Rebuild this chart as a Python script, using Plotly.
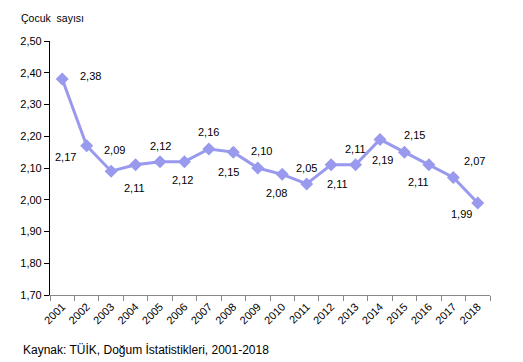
import plotly.graph_objects as go

years = [str(y) for y in range(2001, 2019)]
values = [2.38, 2.17, 2.09, 2.11, 2.12, 2.12, 2.16, 2.15, 2.10, 2.08,
          2.05, 2.11, 2.11, 2.19, 2.15, 2.11, 2.07, 1.99]
y_ticks = [1.7, 1.8, 1.9, 2.0, 2.1, 2.2, 2.3, 2.4, 2.5]
title_text = "Çocuk  sayısı"
source_text = "Kaynak: TÜİK, Doğum İstatistikleri, 2001-2018"

# label offsets (pixels) relative to each point
label_dx = [28, -21, 3, -1, 0, -2, 0, -5, 4, -6, 0, 6, 0, 2, 10, -10, 21, -16]
label_dy = [3, -11, 21, -23, 16, -18, 17, -20, 17, -19, 16, -19, 16, -21, 17, -17, 17, -11]

FONT = "Liberation Sans, Arial, sans-serif"
LINE = "#9999ee"

W, H = 523, 362
L, R, T, B = 42, 41, 33, 75
pw, ph = W - L - R, H - T - B

fig = go.Figure()
fig.add_trace(go.Scatter(
    x=years, y=values, mode="lines+markers",
    line=dict(color=LINE, width=3),
    marker=dict(symbol="diamond", size=10, color=LINE),
    hoverinfo="skip", showlegend=False,
))

annotations = []
for i, (v, dx, dy) in enumerate(zip(values, label_dx, label_dy)):
    annotations.append(dict(
        x=i, y=v, xref="x", yref="y", text=f"{v:.2f}".replace(".", ","),
        showarrow=False, xshift=dx, yshift=dy,
        font=dict(family=FONT, size=11, color="#000"),
    ))
annotations.append(dict(
    x=(11 - L) / pw, y=1 - (10 - T) / ph, xref="paper", yref="paper",
    text=title_text, showarrow=False, xanchor="left", yanchor="middle",
    font=dict(family=FONT, size=10.5, color="#000"),
))
annotations.append(dict(
    x=(13 - L) / pw, y=1 - (342 - T) / ph, xref="paper", yref="paper",
    text=source_text, showarrow=False, xanchor="left", yanchor="middle",
    font=dict(family=FONT, size=12, color="#000"),
))

fig.update_layout(
    width=W, height=H,
    margin=dict(l=L, r=R, t=T, b=B, pad=0),
    paper_bgcolor="white", plot_bgcolor="white",
    separators=",.",
    font=dict(family=FONT, size=11, color="#000"),
    annotations=annotations,
    xaxis=dict(
        type="category", categoryorder="array", categoryarray=years,
        range=[-0.5, len(years) - 0.5],
        tickson="boundaries", tickangle=-45,
        showline=True, linecolor="#888", linewidth=1,
        ticks="outside", ticklen=5, tickcolor="#888",
        showgrid=False, zeroline=False,
        tickfont=dict(family=FONT, size=11, color="#000"),
    ),
    yaxis=dict(
        range=[1.7, 2.5], tickvals=y_ticks, tickformat=".2f",
        showline=True, linecolor="#000", linewidth=1.2,
        ticks="outside", ticklen=5, tickcolor="#000",
        showgrid=False, zeroline=False,
        tickfont=dict(family=FONT, size=11, color="#000"),
    ),
)

fig.write_html("out.html")
